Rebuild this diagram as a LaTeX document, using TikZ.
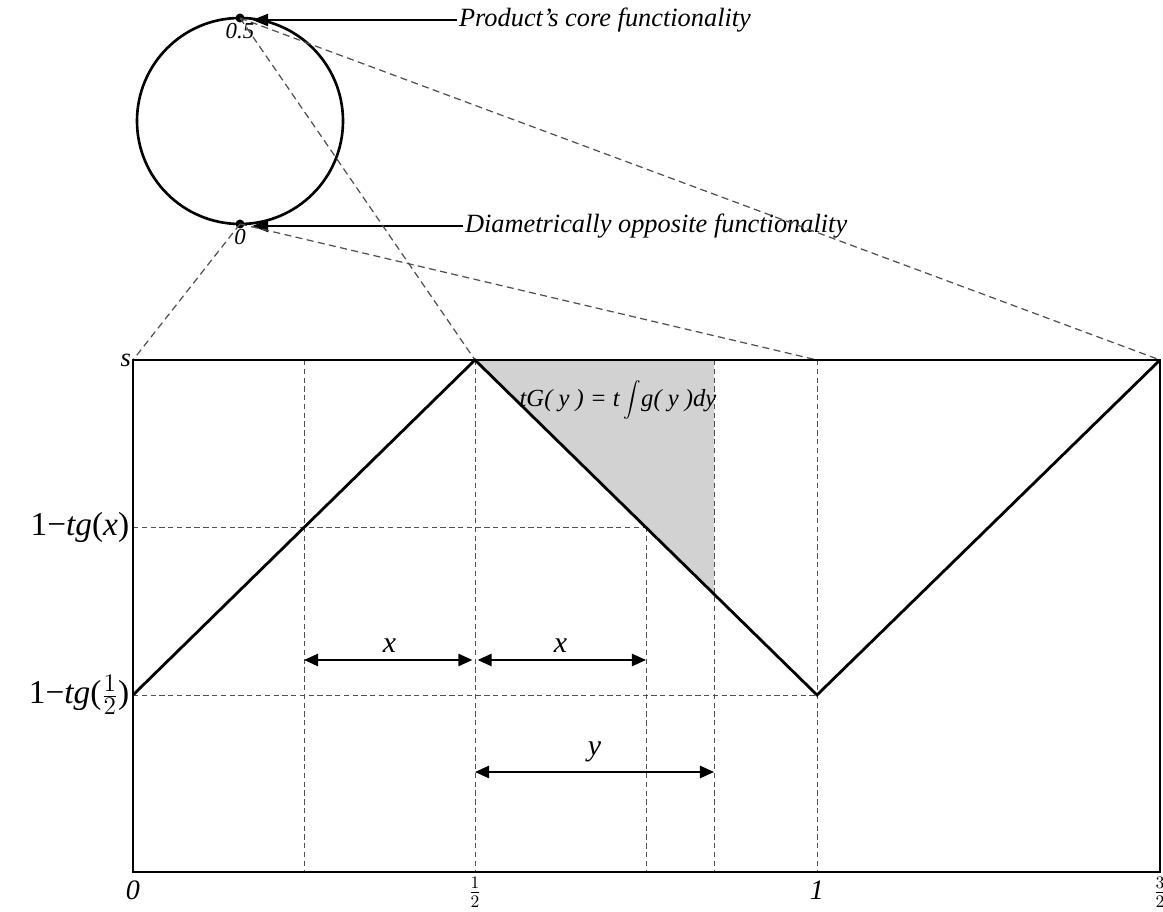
\documentclass[tikz,border=0pt]{standalone}
\usepackage{fontspec}
\setmainfont{Liberation Serif}
\usetikzlibrary{arrows.meta}
\definecolor{areagray}{HTML}{D2D2D2}
\definecolor{guide}{HTML}{505050}

\begin{document}
\begin{tikzpicture}[x=0.02cm,y=0.02cm,
  frame/.style={line width=1.6pt,line join=miter},
  guideline/.style={guide,line width=0.5pt,dash pattern=on 3pt off 2pt},
  linkline/.style={guide,line width=0.7pt,dash pattern=on 4pt off 2.5pt},
  span/.style={{Triangle[length=8pt,width=7pt]}-{Triangle[length=8pt,width=7pt]},line width=1pt},
  callout/.style={-{Triangle[length=9pt,width=7pt]},line width=0.8pt},
  lbl/.style={font=\itshape\fontsize{15}{17}\selectfont,inner sep=1pt}]
\useasboundingbox (0,0) rectangle (1163,912);
% circle of functionalities
\coordinate (c) at (240,791);
\coordinate (ptop) at (240,894);
\coordinate (pbot) at (240,688);
\draw[line width=1.5pt] (c) circle (103);
\fill (ptop) circle (4.5);
\fill (pbot) circle (4.5);
\node[lbl,font=\itshape\fontsize{13}{15}\selectfont,below=2pt] (half) at (ptop) {0.5};
\node[lbl,font=\itshape\fontsize{13}{15}\selectfont,below=2pt] (zero) at (pbot) {0};
\node[lbl,anchor=west] (core) at (457,892) {Product’s core functionality};
\node[lbl,anchor=west] (opp) at (463,686) {Diametrically opposite functionality};
\draw[callout,shorten >=7pt] (core.west) -- (core.west-|ptop);
\draw[callout,shorten >=7pt] (opp.west) -- (opp.west-|pbot);
% points of the period on the top edge
\foreach \n/\x in {a/133,b/304,h/475,d/646,e/714,o/817,f/1160}{
  \coordinate (top\n) at (\x,552);
  \coordinate (bot\n) at (\x,40);}
\coordinate (lowl) at (133,217);
\coordinate (lowo) at (817,217);
\coordinate (midl) at (133,385);
\coordinate (midd) at (646,385);
\coordinate (cut) at (714,318);
\fill[areagray] (toph) -- (tope) -- (cut) -- cycle;
% guide lines
\foreach \n in {b,h,e,o}{\draw[guideline] (top\n) -- (bot\n);}
\draw[guideline] (midd) -- (botd);
\draw[guideline] (midl) -- (midd);
\draw[guideline] (lowl) -- (lowo);
\draw[linkline] (pbot) -- (topa);
\draw[linkline] (pbot) -- (topo);
\draw[linkline] (ptop) -- (toph);
\draw[linkline] (ptop) -- (topf);
% frame and the profile
\draw[frame] (bota) rectangle (topf);
\draw[frame] (lowl) -- (toph) -- (lowo) -- (topf);
% spans
\coordinate (xa) at (304,252);
\coordinate (xb) at (475,252);
\coordinate (xc) at (646,252);
\coordinate (ya) at (475,140);
\coordinate (yb) at (714,140);
\draw[span,shorten >=1.5pt] (xa) -- node[lbl,font=\itshape\fontsize{17}{19}\selectfont,above=3pt] (lx1) {x} (xb);
\draw[span,shorten <=1.5pt] (xb) -- node[lbl,font=\itshape\fontsize{17}{19}\selectfont,above=3pt] (lx2) {x} (xc);
\draw[span] (ya) -- node[lbl,font=\itshape\fontsize{17}{19}\selectfont,above=4pt] (ly) {y} (yb);
\node[lbl,font=\itshape\fontsize{14}{16}\selectfont] (area) at (618,512) {tG( y ) = t\,$\displaystyle\int$g( y )dy};
% axis labels
\node[lbl,anchor=east,font=\itshape\fontsize{15}{17}\selectfont] (ls) at (topa) {s};
\node[anchor=east,font=\fontsize{19}{21}\selectfont,inner sep=2pt] (lm) at (midl) {1−\textit{tg}(\textit{x})};
\node[anchor=east,font=\fontsize{19}{21}\selectfont,inner sep=2pt] (ll) at (lowl) {1−\textit{tg}($\frac{1}{2}$)};
\foreach \n/\t in {a/0,o/1}{
  \node[lbl,font=\itshape\fontsize{16}{18}\selectfont,below=4pt] (tick\n) at (bot\n) {\t};}
\foreach \n/\t in {h/{\frac{1}{2}},f/{\frac{3}{2}}}{
  \node[lbl,font=\fontsize{14}{16}\selectfont,below=2pt] (tick\n) at (bot\n) {$\t$};}
\end{tikzpicture}
\end{document}
